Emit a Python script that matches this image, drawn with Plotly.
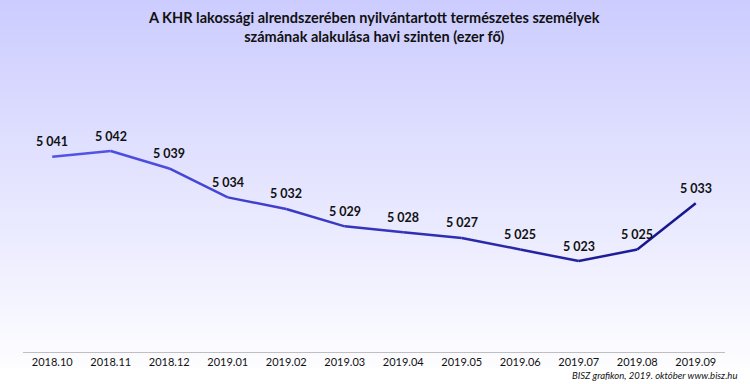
import plotly.graph_objects as go

months = ["2018.10", "2018.11", "2018.12", "2019.01", "2019.02", "2019.03",
          "2019.04", "2019.05", "2019.06", "2019.07", "2019.08", "2019.09"]
values = [5041, 5042, 5039, 5034, 5032, 5029, 5028, 5027, 5025, 5023, 5025, 5033]
labels = ["5 041", "5 042", "5 039", "5 034", "5 032", "5 029",
          "5 028", "5 027", "5 025", "5 023", "5 025", "5 033"]

title_lines = ["A KHR lakossági alrendszerében nyilvántartott természetes személyek",
               "számának alakulása havi szinten (ezer fő)"]
footer_text = "BISZ grafikon, 2019. október www.bisz.hu"

FONT = "Lato, 'Open Sans', sans-serif"

def lerp(c1, c2, t):
    return tuple(round(a + (b - a) * t) for a, b in zip(c1, c2))

fig = go.Figure()

# gradient line: one trace per segment
c_start = (85, 85, 235)
c_end = (20, 20, 140)
n = len(values)
for i in range(n - 1):
    t = (i + 0.5) / (n - 1)
    col = "rgb(%d,%d,%d)" % lerp(c_start, c_end, t)
    fig.add_trace(go.Scatter(
        x=months[i:i + 2], y=values[i:i + 2], mode="lines",
        line=dict(color=col, width=2.5), hoverinfo="skip", showlegend=False))

W, H = 750, 384
ml, mr, mt, mb = 23, 25, 70, 32
ph = H - mt - mb
pw = W - ml - mr

# background gradient shapes (top of figure -> near white at ~y=368px)
shapes = []
steps = 96
top_c = (204, 204, 255)
bot_c = (253, 253, 255)
ytop = 1 + mt / ph
ybot = -(mb - 16) / ph
for k in range(steps):
    y0 = ytop - (ytop - ybot) * k / steps
    y1 = ytop - (ytop - ybot) * (k + 1) / steps
    col = "rgb(%d,%d,%d)" % lerp(top_c, bot_c, (k + 0.5) / steps)
    shapes.append(dict(type="rect", xref="paper", yref="paper", x0=-0.1, x1=1.1,
                       y0=y1 - 0.002, y1=y0 + 0.002, fillcolor=col,
                       line=dict(width=0), layer="below"))

annotations = []
for i, (v, lab) in enumerate(zip(values, labels)):
    annotations.append(dict(x=i, y=v, xref="x", yref="y", text=lab, showarrow=False,
                            yshift=15, xanchor="center", yanchor="middle",
                            font=dict(family=FONT, size=12.5, color="#111111", weight="bold")))

annotations.append(dict(text="<br>".join(title_lines), xref="paper", yref="paper",
                        x=0.5, y=1 + (mt - 7) / ph, xanchor="center", yanchor="top",
                        showarrow=False, align="center",
                        font=dict(family=FONT, size=14.5, color="#111111", weight="bold")))
annotations.append(dict(text=footer_text, xref="paper", yref="paper",
                        x=1 + 14 / pw, y=-(mb - 16) / ph, xanchor="right", yanchor="top",
                        showarrow=False,
                        font=dict(family=FONT, size=9.5, color="#111111", style="italic")))

fig.update_layout(
    width=W, height=H,
    margin=dict(l=ml, r=mr, t=mt, b=mb),
    paper_bgcolor="white", plot_bgcolor="rgba(0,0,0,0)",
    shapes=shapes,
    annotations=annotations,
    xaxis=dict(type="category", showgrid=False, zeroline=False,
               showline=True, linecolor="#bfbfbf", linewidth=1,
               ticks="", tickfont=dict(family=FONT, size=11, color="#111111"),
               range=[-0.5, 11.5], fixedrange=True, automargin=False),
    yaxis=dict(range=[5007.3, 5056], fixedrange=True, showgrid=False,
               zeroline=False, showline=False, showticklabels=False, ticks="",
               automargin=False),
)

fig.write_html("out.html", config={"displayModeBar": False},
               post_script="document.body.style.margin='0px';")
